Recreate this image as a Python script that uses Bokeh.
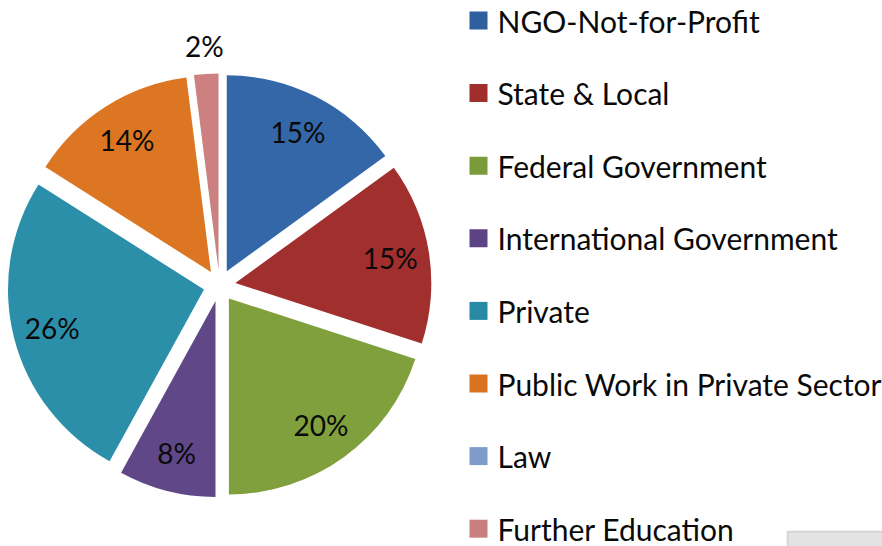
import math
from bokeh.plotting import figure
from bokeh.models import Range1d, BoxAnnotation, ColumnDataSource
from bokeh.core.properties import value
from bokeh.embed import file_html
from bokeh.resources import INLINE

# ---- data ----
categories = ["NGO-Not-for-Profit", "State & Local", "Federal Government",
              "International Government", "Private", "Public Work in Private Sector",
              "Law", "Further Education"]
shares = [15, 15, 20, 8, 26, 14, 0, 2]
labels = ["15%", "15%", "20%", "8%", "26%", "14%", "", "2%"]
colors = ["#3467a8", "#a12f2e", "#7fa03d", "#604888", "#2b8fa9", "#dc7623", "#8aa5d1", "#cc8080"]
legend_colors = ["#2f5f9e", "#a02e2d", "#7a9b3a", "#5c4484", "#2789a3", "#d8731f", "#7f9bc9", "#c97f7f"]

W, H = 882, 546
FONT = "Lato"

p = figure(width=W, height=H, x_range=Range1d(0, W), y_range=Range1d(0, H),
           min_border=0, toolbar_location=None, output_backend="svg")
p.axis.visible = False
p.grid.visible = False
p.outline_line_color = None
p.background_fill_color = "white"
p.border_fill_color = "white"

# pie geometry (layout)
cx, cy = 219, H - 285
R = 196
explode = 16
total = float(sum(shares))

xs, ys, starts, ends, lx, ly, ltxt, cols = [], [], [], [], [], [], [], []
cum = 0.0
for s, lab, col in zip(shares, labels, colors):
    f0 = cum / total
    f1 = (cum + s) / total
    cum += s
    if s <= 0:
        continue
    mid = (f0 + f1) / 2 * 2 * math.pi  # clockwise from top
    ox = cx + explode * math.sin(mid)
    oy = cy + explode * math.cos(mid)
    xs.append(ox); ys.append(oy)
    starts.append(math.pi / 2 - f1 * 2 * math.pi)
    ends.append(math.pi / 2 - f0 * 2 * math.pi)
    cols.append(col)
    rl = 0.8 * R if s >= 5 else R + 28
    lx.append(ox + rl * math.sin(mid))
    ly.append(oy + rl * math.cos(mid))
    ltxt.append(lab)

src = ColumnDataSource(dict(x=xs, y=ys, start=starts, end=ends, color=cols))
p.wedge(x="x", y="y", radius=R, start_angle="start", end_angle="end",
        fill_color="color", line_color=None, source=src)

p.text(x=lx, y=ly, text=ltxt, text_align="center", text_baseline="middle",
       text_font=value(FONT), text_font_size="28px", text_color="#0a0a0a")

# legend (drawn manually)
leg_y = [H - (20 + 72.6 * i) for i in range(len(categories))]
p.scatter(x=[478] * len(categories), y=leg_y, marker="square", size=18,
          fill_color=legend_colors, line_color=None)
p.text(x=[497] * len(categories), y=leg_y, text=categories, text_align="left",
       text_baseline="middle", text_font=value(FONT), text_font_size="30px",
       text_color="#0a0a0a")

# grey box fragment at bottom right
p.add_layout(BoxAnnotation(left=787, right=W + 5, bottom=-5, top=H - 531,
                           fill_color="#e3e3e3", fill_alpha=1.0,
                           line_color="#a0a0a0", line_width=2))

open("out.html", "w").write(file_html(p, INLINE))
